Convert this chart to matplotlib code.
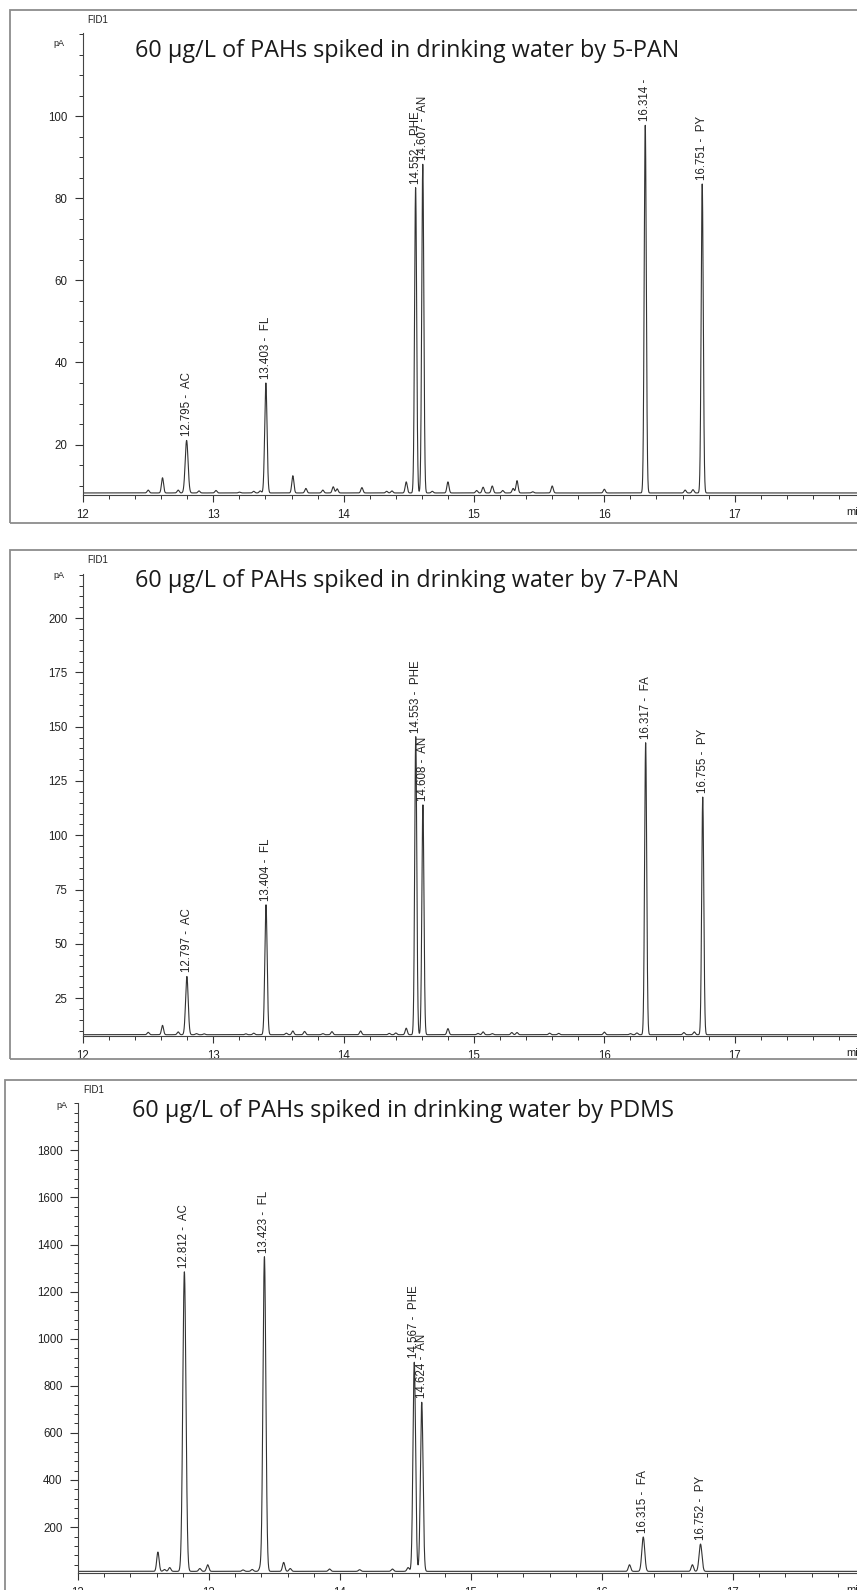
import numpy as np
import matplotlib.pyplot as plt
from matplotlib.patches import Rectangle
from matplotlib.ticker import FixedLocator, MultipleLocator

W, H = 857, 1590
plt.rcParams["font.family"] = ["Liberation Sans", "DejaVu Sans"]

# ── data: labelled peaks (retention time, apex pA) ──────────────────────────
pan5_rt    = [12.795, 13.403, 14.552, 14.607, 16.314, 16.751]
pan5_top   = [21.0, 35.0, 82.6, 88.3, 97.8, 83.5]
pan5_sig   = [0.011, 0.009, 0.008, 0.008, 0.008, 0.008]
pan5_names = ["AC", "FL", "PHE", "AN", "", "PY"]
pan5_base  = 8.2
pan5_small_rt  = [12.50, 12.61, 12.73, 12.89, 13.02, 13.20, 13.31, 13.36, 13.61,
                  13.71, 13.84, 13.92, 13.95, 14.14, 14.33, 14.37, 14.48, 14.68,
                  14.80, 15.02, 15.07, 15.14, 15.22, 15.30, 15.33, 15.45, 15.60,
                  16.00, 16.62, 16.68]
pan5_small_top = [8.9, 11.9, 8.9, 8.7, 8.8, 8.4, 8.6, 8.7, 12.4,
                  9.3, 8.9, 9.7, 9.2, 9.5, 8.6, 8.7, 10.9, 8.6,
                  10.9, 8.8, 9.6, 9.9, 8.8, 9.3, 11.2, 8.5, 9.9,
                  9.1, 8.9, 9.0]

pan7_rt    = [12.797, 13.404, 14.553, 14.608, 16.317, 16.755]
pan7_top   = [35.0, 68.0, 145.4, 114.0, 142.6, 117.6]
pan7_sig   = [0.010, 0.009, 0.008, 0.008, 0.008, 0.008]
pan7_names = ["AC", "FL", "PHE", "AN", "FA", "PY"]
pan7_base  = 8.2
pan7_small_rt  = [12.50, 12.61, 12.73, 12.87, 12.93, 13.25, 13.31, 13.56, 13.61,
                  13.70, 13.84, 13.91, 14.13, 14.35, 14.40, 14.48, 14.80, 15.03,
                  15.07, 15.14, 15.29, 15.33, 15.58, 15.65, 16.00, 16.20, 16.25,
                  16.61, 16.69]
pan7_small_top = [9.3, 12.5, 9.5, 8.7, 8.6, 8.6, 8.9, 8.9, 9.9,
                  9.7, 8.7, 9.6, 9.9, 8.8, 9.0, 11.2, 11.0, 8.8,
                  9.5, 8.7, 9.2, 9.2, 8.9, 8.8, 9.4, 8.7, 9.0,
                  9.2, 9.5]

pdms_rt    = [12.812, 13.423, 14.567, 14.624, 16.315, 16.752]
pdms_top   = [1284, 1348, 900, 730, 158, 128]
pdms_sig   = [0.012, 0.011, 0.010, 0.010, 0.011, 0.011]
pdms_names = ["AC", "FL", "PHE", "AN", "FA", "PY"]
pdms_base  = 12
pdms_small_rt  = [12.61, 12.66, 12.70, 12.93, 12.99, 13.26, 13.33, 13.39, 13.57,
                  13.62, 13.92, 14.15, 14.40, 14.52, 16.21, 16.69]
pdms_small_top = [94, 20, 28, 24, 40, 18, 20, 25, 50,
                  24, 22, 19, 22, 28, 40, 40]

titles = ["60 µg/L of PAHs spiked in drinking water by 5-PAN",
          "60 µg/L of PAHs spiked in drinking water by 7-PAN",
          "60 µg/L of PAHs spiked in drinking water by PDMS"]

panels = [
    dict(rt=pan5_rt, top=pan5_top, sig=pan5_sig, names=pan5_names, base=pan5_base,
         srt=pan5_small_rt, stop=pan5_small_top, ssig=0.008,
         ylim=(7.7, 120.3), major=[20, 40, 60, 80, 100], minor=5,
         frame=(10, 10, 880, 523), ax=(83, 33, 865, 495),
         fid=(87, 20), pa=(64, 44), title=(135, 57), xmin=512),
    dict(rt=pan7_rt, top=pan7_top, sig=pan7_sig, names=pan7_names, base=pan7_base,
         srt=pan7_small_rt, stop=pan7_small_top, ssig=0.008,
         ylim=(7.6, 220.3), major=[25, 50, 75, 100, 125, 150, 175, 200], minor=5,
         frame=(10, 550, 880, 1059), ax=(83, 574, 865, 1036),
         fid=(87, 560), pa=(64, 575), title=(135, 587), xmin=1053),
    dict(rt=pdms_rt, top=pdms_top, sig=pdms_sig, names=pdms_names, base=pdms_base,
         srt=pdms_small_rt, stop=pdms_small_top, ssig=0.009,
         ylim=(5, 2001), major=list(range(200, 1801, 200)), minor=40,
         frame=(5, 1080, 880, 1620), ax=(78, 1103, 864, 1573),
         fid=(83, 1090), pa=(67, 1105), title=(132, 1117), xmin=1590),
]

t = np.linspace(12, 18, 12001)

fig = plt.figure(figsize=(W / 100, H / 100), dpi=100)

for i, p in enumerate(panels):
    x0, y0, x1, y1 = p["frame"]
    fig.add_artist(Rectangle((x0 / W, 1 - y1 / H), (x1 - x0) / W, (y1 - y0) / H,
                             transform=fig.transFigure, fill=False,
                             ec="#8c8c8c", lw=1.3))

    l, tp, r, b = p["ax"]
    ax = fig.add_axes([l / W, 1 - b / H, (r - l) / W, (b - tp) / H])
    ax.patch.set_alpha(0)

    y = np.full_like(t, p["base"], dtype=float)
    for rt, top, s in zip(p["rt"] + p["srt"], p["top"] + p["stop"],
                          p["sig"] + [p["ssig"]] * len(p["srt"])):
        y += (top - p["base"]) * np.exp(-0.5 * ((t - rt) / s) ** 2)
    ax.plot(t, y, color="#333333", lw=0.8)

    for rt, top, name in zip(p["rt"], p["top"], p["names"]):
        ax.annotate(f"{rt:.3f} -  {name}", (rt, top), xytext=(0, 3),
                    textcoords="offset points", rotation=90, ha="center",
                    va="bottom", fontsize=8.3, color="#222222")

    ax.set_xlim(12, 18)
    ax.set_ylim(*p["ylim"])
    ax.xaxis.set_major_locator(FixedLocator([12, 13, 14, 15, 16, 17]))
    ax.xaxis.set_minor_locator(MultipleLocator(0.2))
    ax.yaxis.set_major_locator(FixedLocator(p["major"]))
    ax.yaxis.set_minor_locator(MultipleLocator(p["minor"]))
    ax.tick_params(which="major", direction="out", length=5, width=0.8,
                   labelsize=8.3, colors="#333333", labelcolor="#222222")
    ax.tick_params(axis="y", which="major", length=6, pad=5)
    ax.tick_params(axis="x", which="major", pad=5)
    ax.tick_params(which="minor", direction="out", length=3, width=0.7,
                   colors="#333333")
    for side in ("top", "right"):
        ax.spines[side].set_visible(False)
    for side in ("left", "bottom"):
        ax.spines[side].set_color("#444444")
        ax.spines[side].set_linewidth(0.8)

    fig.text(p["fid"][0] / W, 1 - p["fid"][1] / H, "FID1", fontsize=7,
             ha="left", va="center", color="#222222")
    fig.text(p["pa"][0] / W, 1 - p["pa"][1] / H, "pA", fontsize=6.5,
             ha="right", va="center", color="#222222")
    fig.text(p["title"][0] / W, 1 - p["title"][1] / H, titles[i],
             fontsize=16.8, family="Open Sans", ha="left", va="baseline",
             color="#1a1a1a")
    fig.text(846 / W, 1 - p["xmin"] / H, "min", fontsize=8, ha="left",
             va="center", color="#222222")

fig.savefig("out.png", dpi=100)
